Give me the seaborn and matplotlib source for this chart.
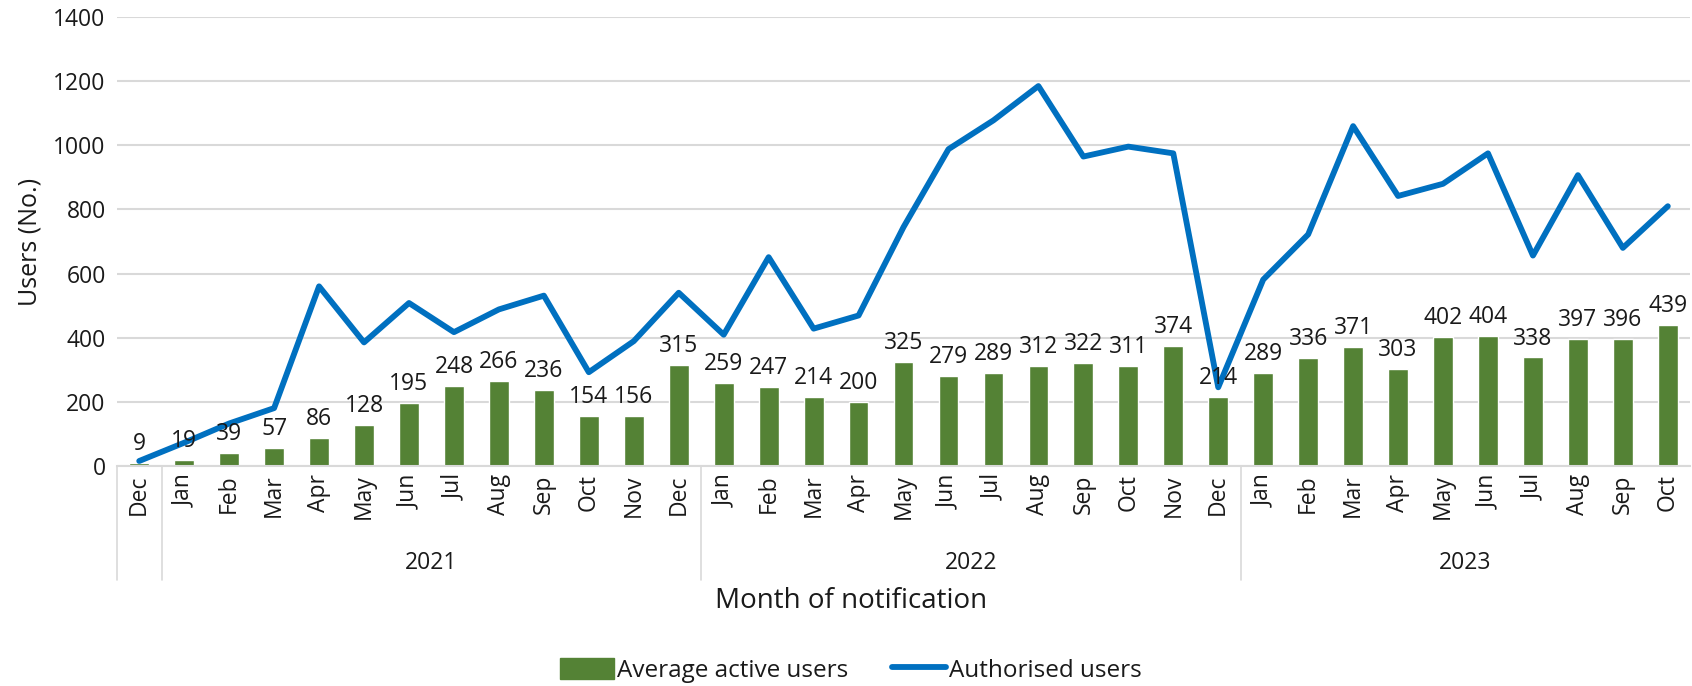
import matplotlib
matplotlib.use("Agg")
import matplotlib.pyplot as plt
import matplotlib.transforms as mtransforms
from matplotlib.patches import Patch
from matplotlib.lines import Line2D
import seaborn as sns
import pandas as pd
import numpy as np

months = ["Dec", "Jan", "Feb", "Mar", "Apr", "May", "Jun", "Jul", "Aug", "Sep", "Oct", "Nov", "Dec",
          "Jan", "Feb", "Mar", "Apr", "May", "Jun", "Jul", "Aug", "Sep", "Oct", "Nov", "Dec",
          "Jan", "Feb", "Mar", "Apr", "May", "Jun", "Jul", "Aug", "Sep", "Oct"]
years = ["2020"] + ["2021"] * 12 + ["2022"] * 12 + ["2023"] * 10
avg_active = [9, 19, 39, 57, 86, 128, 195, 248, 266, 236, 154, 156, 315,
              259, 247, 214, 200, 325, 279, 289, 312, 322, 311, 374, 214,
              289, 336, 371, 303, 402, 404, 338, 397, 396, 439]
authorised = [15, 72, 132, 180, 560, 385, 508, 417, 488, 531, 292, 389, 540,
              409, 651, 428, 469, 745, 988, 1078, 1185, 965, 996, 975, 245,
              581, 722, 1060, 842, 880, 975, 656, 907, 680, 810]
year_labels = ["2021", "2022", "2023"]

sns.set_theme(style="white")
plt.rcParams['font.family'] = ['Open Sans', 'DejaVu Sans']

keys = [f"{m} {y}" for m, y in zip(months, years)]
df = pd.DataFrame({"key": keys, "month": months, "year": years,
                   "Average active users": avg_active, "Authorised users": authorised})

green = "#548235"
blue = "#0070C0"
grid = "#D9D9D9"
txt = "#1a1a1a"

fig = plt.figure(figsize=(16.92, 6.86), dpi=100)
ax = fig.add_axes([0.069, 0.321, 0.930, 0.654])

sns.barplot(data=df, x="key", y="Average active users", color=green, width=0.44,
            saturation=1, ax=ax, zorder=2)
sns.lineplot(data=df, x="key", y="Authorised users", color=blue, linewidth=4.2,
             sort=False, ax=ax, zorder=3)

ax.bar_label(ax.containers[0], labels=[str(v) for v in avg_active], padding=5,
             fontsize=16.5, color=txt)

ax.set_ylim(0, 1400)
ax.set_yticks(range(0, 1401, 200))
ax.set_xlim(-0.5, len(keys) - 0.5)
ax.yaxis.grid(True, color=grid, linewidth=1.5, zorder=0)
ax.set_axisbelow(True)
for s in ["left", "right", "top"]:
    ax.spines[s].set_visible(False)
ax.spines["bottom"].set_color(grid)
ax.spines["bottom"].set_linewidth(1.5)

ax.set_xticks(range(len(keys)))
ax.set_xticklabels(months, rotation=90, fontsize=16.5, color=txt)
ax.tick_params(axis="x", length=0, pad=6)
ax.tick_params(axis="y", length=0, pad=8, labelsize=16.5, labelcolor=txt)

ax.set_ylabel("Users (No.)", fontsize=18, color=txt, labelpad=8)
ax.set_xlabel("")

trans = mtransforms.blended_transform_factory(ax.transData, ax.transAxes)
for xb in [-0.5, 0.5, 12.5, 24.5]:
    ax.plot([xb, xb], [0, -0.254], transform=trans, color=grid, linewidth=1.2, clip_on=False)
year_centers = [6.5, 18.5, 29.5]
for yl, xc in zip(year_labels, year_centers):
    ax.text(xc, -0.216, yl, transform=trans, ha="center", va="center", fontsize=16.5, color=txt)

fig.text(0.503, 0.124, "Month of notification", ha="center", va="center", fontsize=20, color=txt)

handles = [Patch(facecolor=green, edgecolor=green, label="Average active users"),
           Line2D([0], [0], color=blue, linewidth=4.2, label="Authorised users")]
fig.legend(handles=handles, loc="center", bbox_to_anchor=(0.503, 0.023), ncol=2,
           frameon=False, fontsize=17.5, handlelength=2.2, handleheight=0.95,
           columnspacing=1.8, handletextpad=0.15, labelcolor=txt)

fig.savefig("out.png", dpi=100)
